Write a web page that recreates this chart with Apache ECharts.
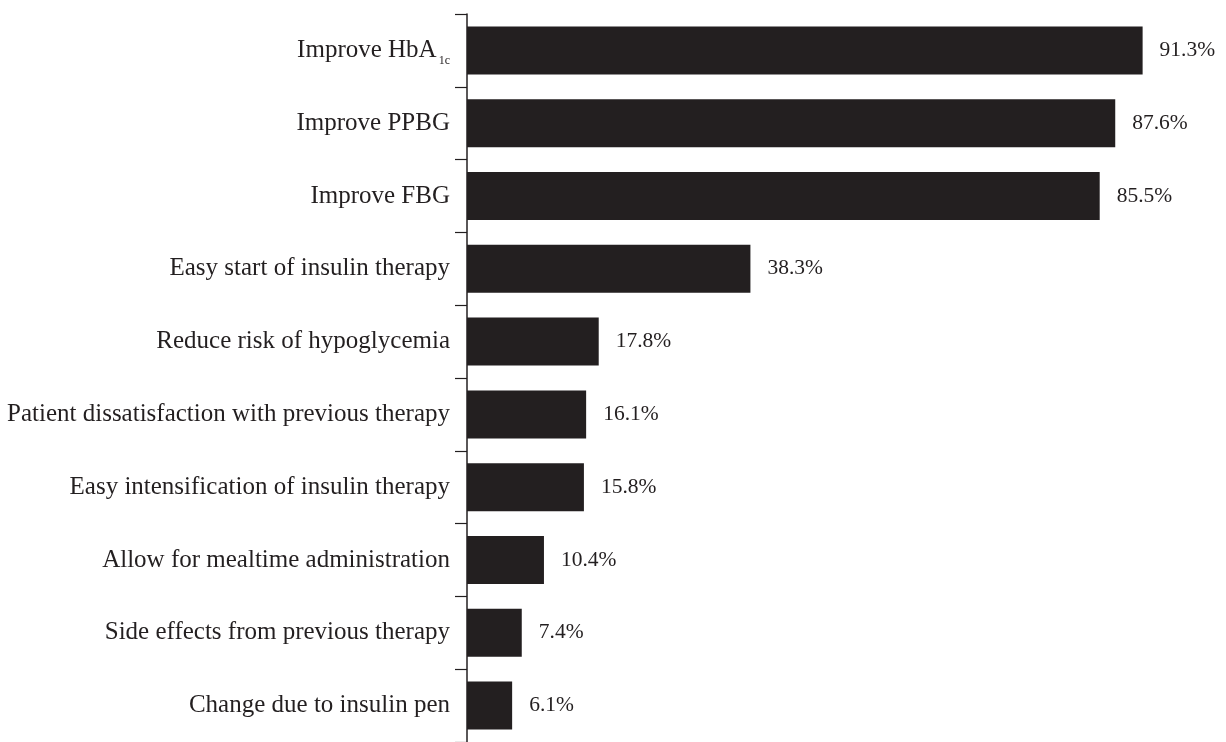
<!DOCTYPE html>
<html><head><meta charset="utf-8">
<script src="https://cdn.jsdelivr.net/npm/echarts@6/dist/echarts.min.js"></script>
<style>html,body{margin:0;padding:0;background:#fff}#c{width:1226px;height:742px}</style>
</head><body><div id="c"></div>
<script>
const categories = ["Improve HbA1c","Improve PPBG","Improve FBG","Easy start of insulin therapy","Reduce risk of hypoglycemia","Patient dissatisfaction with previous therapy","Easy intensification of insulin therapy","Allow for mealtime administration","Side effects from previous therapy","Change due to insulin pen"];
const values = [91.3,87.6,85.5,38.3,17.8,16.1,15.8,10.4,7.4,6.1];
const ink = '#231f20';
const font = '"Liberation Serif", "DejaVu Serif", serif';
const chart = echarts.init(document.getElementById('c'));
chart.setOption({
  animation:false,
  grid:{left:467,right:19,top:14,bottom:-2,containLabel:false},
  xAxis:{type:'value',min:0,max:100,show:false},
  yAxis:{type:'category',data:categories,inverse:true,
    axisLine:{show:true,lineStyle:{color:ink,width:1.5}},
    axisTick:{show:true,length:12,lineStyle:{color:ink,width:1.2}},
    axisLabel:{margin:17,fontFamily:font,fontSize:25,color:ink,
      formatter:function(v){return v==='Improve HbA1c'?'Improve HbA{s|1c}':v;},
      rich:{s:{fontFamily:font,fontSize:12,color:ink,verticalAlign:'bottom',padding:[20,0,0,2]}}}
  },
  series:[{type:'bar',data:values,barWidth:'66%',itemStyle:{color:ink},
    label:{show:true,position:'right',distance:17,fontFamily:font,fontSize:21.5,color:ink,
      formatter:function(p){return p.value.toFixed(1)+'%';}}}]
});
</script></body></html>
